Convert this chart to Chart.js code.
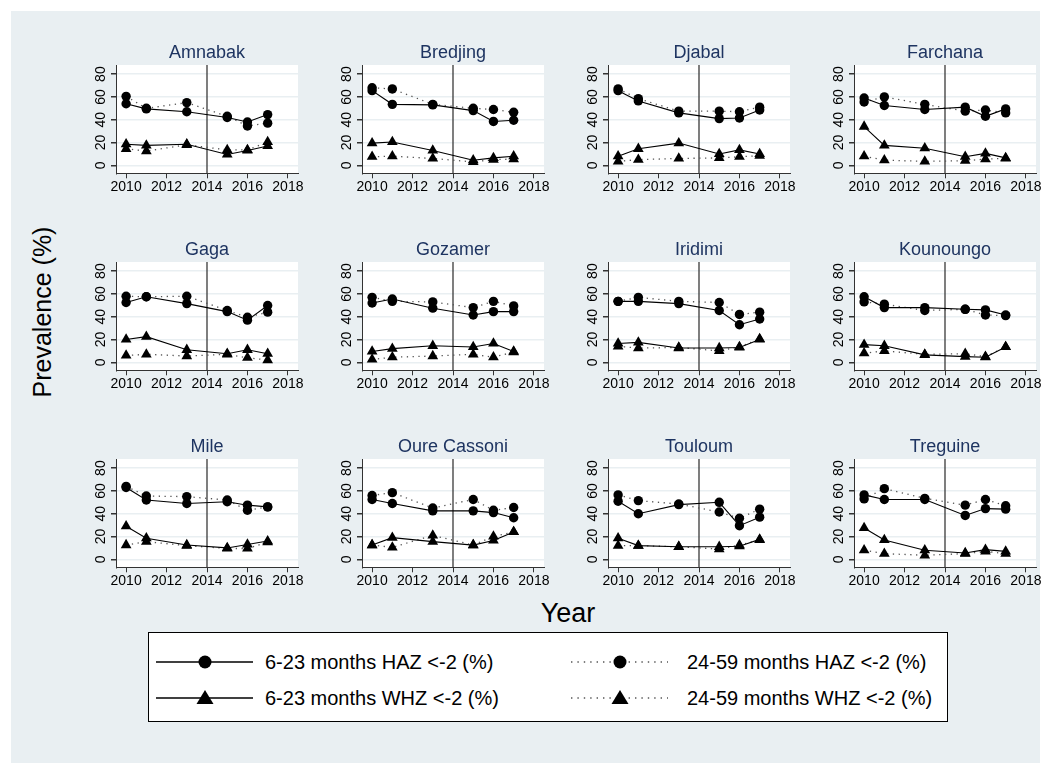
<!DOCTYPE html>
<html>
<head>
<meta charset="utf-8">
<script src="https://cdn.jsdelivr.net/npm/chart.js@4.4.1/dist/chart.umd.min.js"></script>
<style>
body { margin: 0; background: #fff; font-family: 'Liberation Sans', Arial, Helvetica, sans-serif; }
#fig { position: absolute; left: 11px; top: 11px; width: 1029px; height: 752px; background: #e9eff2; }
.panel { position: absolute; width: 246px; height: 175px; }
.axtitle { position: absolute; color: #000; white-space: nowrap; line-height: 30px; }
#ytitle { left: 42px; top: 312px; font-size: 25px; transform: translate(-50%, -50%) rotate(-90deg); }
#xtitle { left: 568px; top: 613px; font-size: 27px; transform: translate(-50%, -50%); }
#legend { position: absolute; left: 148px; top: 632px; width: 800px; height: 90px; box-sizing: border-box;
          border: 1px solid #000; background: #fff; }
#legend svg, #legend .lab { position: absolute; }
#legend .lab { font-size: 20px; line-height: 24px; white-space: nowrap; color: #000; }
</style>
</head>
<body>
<div id="fig"></div>
<div class="axtitle" id="ytitle">Prevalence (%)</div>
<div class="axtitle" id="xtitle">Year</div>
<div id="legend"></div>
<script>
const sites = ['Amnabak', 'Bredjing', 'Djabal', 'Farchana', 'Gaga', 'Gozamer',
               'Iridimi', 'Kounoungo', 'Mile', 'Oure Cassoni', 'Touloum', 'Treguine'];
const years = [2010, 2011, 2013, 2015, 2016, 2017];
const xTicks = [2010, 2012, 2014, 2016, 2018];
const yTicks = [0, 20, 40, 60, 80];
const interventionYear = 2014;

// 6-23 months HAZ <-2 (%)
const haz623 = [
    [54, 49.5, 47, 42, 38, 44.5],
    [65.5, 53.5, 53, 48, 38.5, 39.5],
    [65.5, 56.5, 46, 41, 41.5, 48.5],
    [59, 52.5, 49, 51, 43, 49.5],
    [52.5, 57.5, 51.5, 44.5, 37, 49.8],
    [52, 55.5, 47.5, 41.5, 44.5, 44.5],
    [53.5, 53.5, 51.5, 45.5, 33, 38],
    [57.5, 48, 48, 46.5, 46, 41.5],
    [63, 52, 49, 50.5, 47.5, 46],
    [52.5, 49, 42.5, 42.5, 41, 36.5],
    [51, 40, 48, 50, 29.5, 37],
    [56.5, 52.5, 52.5, 38.5, 44.5, 44]
];
// 24-59 months HAZ <-2 (%)
const haz2459 = [
    [60.5, 50, 55, 43, 34.5, 37],
    [68, 67, 53.5, 50, 49, 46.5],
    [67, 58.5, 47.5, 47.5, 47, 51],
    [55.5, 60, 53.5, 47.5, 48.5, 46],
    [58, 57.5, 58, 45.5, 39.5, 44],
    [57, 53.5, 53, 48, 53.5, 49.5],
    [53.5, 57, 53.5, 52.5, 42, 44],
    [53, 51, 45.5, 46.5, 41.5, 41],
    [64, 55.5, 55, 52, 43, 46],
    [56, 58.5, 45, 52.5, 43, 45.5],
    [56.5, 51.5, 48.5, 41.5, 36, 44],
    [53, 62, 53.5, 47.5, 52.5, 47]
];
// 6-23 months WHZ <-2 (%)
const whz623 = [
    [18.5, 17.5, 18.5, 9.5, 13, 17],
    [19.5, 20.5, 13, 4.5, 6.5, 8],
    [8, 14.5, 19.5, 10, 13.5, 10],
    [34, 17.5, 15, 7.5, 10.5, 6.5],
    [20, 22.5, 11, 7.5, 11, 7.5],
    [9.5, 12, 14.5, 13.5, 16.5, 9.5],
    [16.5, 17.5, 12.5, 12.5, 13, 20],
    [15.5, 14.5, 6.5, 5, 4.5, 13.5],
    [29, 18.5, 12.5, 10, 13, 16],
    [12.5, 19, 15.5, 12.5, 16.5, 24],
    [18.5, 12, 11, 11, 11.5, 17.5],
    [27.5, 17, 8, 5.5, 8.5, 7]
];
// 24-59 months WHZ <-2 (%)
const whz2459 = [
    [14.5, 12.5, 18, 13.5, 13.5, 20.5],
    [7.5, 8, 6, 3, 5, 5.5],
    [3.5, 5, 6, 6.5, 7.5, 8.5],
    [8, 4.5, 3.5, 4, 5.5, 6],
    [6, 7, 5.5, 7, 4, 2],
    [2.5, 4.5, 5.5, 7, 4.5, 9],
    [14, 12.5, 13, 10, 13.5, 20.5],
    [8, 10, 7, 7.5, 5, 13.5],
    [12.5, 15.5, 12, 9.5, 9.5, 15],
    [12.5, 10.5, 21, 12.5, 20, 24],
    [12, 12, 11, 9, 12.5, 17],
    [8, 5, 3.5, 5, 7, 5]
];
const seriesLabels = ['6-23 months HAZ <-2 (%)', '24-59 months HAZ <-2 (%)',
                      '6-23 months WHZ <-2 (%)', '24-59 months WHZ <-2 (%)'];

const font = "'Liberation Sans', Arial, Helvetica, sans-serif";
const bg = '#e9eff2';
const titleColor = '#1e3461';

const toPoints = arr => years.map((yr, j) => ({ x: yr, y: arr[j] }));

const series = (label, arr, shape, dotted) => ({
    label: label,
    data: toPoints(arr),
    borderColor: dotted ? '#555' : '#000',
    borderWidth: dotted ? 1.3 : 1.1,
    borderDash: dotted ? [1.3, 4.5] : [],
    pointStyle: shape,
    pointRadius: shape === 'circle' ? 4.7 : 6.2,
    pointBackgroundColor: '#000',
    pointBorderColor: '#000',
    pointBorderWidth: 0,
    tension: 0
});

// white plot region, 2014 reference line and rotated y labels
const panelDecor = {
    id: 'panelDecor',
    beforeDraw(chart) {
        const { ctx, chartArea: a } = chart;
        ctx.save();
        ctx.fillStyle = '#fff';
        ctx.fillRect(a.left, a.top, a.right - a.left, a.bottom - a.top);
        ctx.restore();
    },
    beforeDatasetsDraw(chart) {
        const { ctx, chartArea: a } = chart;
        const px = chart.scales.x.getPixelForValue(interventionYear);
        ctx.save();
        ctx.strokeStyle = '#3a3a3a';
        ctx.lineWidth = 1.3;
        ctx.beginPath();
        ctx.moveTo(px, a.top);
        ctx.lineTo(px, a.bottom);
        ctx.stroke();
        ctx.restore();
    },
    afterDraw(chart) {
        const { ctx } = chart;
        const ys = chart.scales.y;
        ctx.save();
        ctx.fillStyle = '#000';
        ctx.font = '14px ' + font;
        ctx.textAlign = 'center';
        ctx.textBaseline = 'middle';
        yTicks.forEach(v => {
            ctx.save();
            ctx.translate(ys.right - 14.5, ys.getPixelForValue(v));
            ctx.rotate(-Math.PI / 2);
            ctx.fillText(String(v), 0, 0);
            ctx.restore();
        });
        ctx.restore();
    }
};

sites.forEach((name, i) => {
    const row = Math.floor(i / 4), col = i % 4;
    const box = document.createElement('div');
    box.className = 'panel';
    box.style.left = Math.round(60 + 246.1 * col) + 'px';
    box.style.top = Math.round(30 + 197.2 * row) + 'px';
    const cv = document.createElement('canvas');
    cv.width = 246;
    cv.height = 175;
    box.appendChild(cv);
    document.body.appendChild(box);

    new Chart(cv.getContext('2d'), {
        type: 'line',
        data: {
            datasets: [
                series(seriesLabels[0], haz623[i], 'circle', false),
                series(seriesLabels[1], haz2459[i], 'circle', true),
                series(seriesLabels[2], whz623[i], 'triangle', false),
                series(seriesLabels[3], whz2459[i], 'triangle', true)
            ]
        },
        options: {
            responsive: false,
            animation: false,
            devicePixelRatio: 1,
            layout: { padding: { left: 0, right: 8, top: 0, bottom: 0 } },
            plugins: {
                legend: { display: false },
                tooltip: { enabled: false },
                title: {
                    display: true,
                    fullSize: false,
                    text: name,
                    color: titleColor,
                    font: { family: font, size: 18, weight: 'normal' },
                    padding: { top: 12, bottom: 1.4 }
                }
            },
            scales: {
                x: {
                    type: 'linear',
                    min: 2009.5,
                    max: 2018.5,
                    afterBuildTicks: s => { s.ticks = xTicks.map(v => ({ value: v })); },
                    afterFit: s => { s.height = 31.7; },
                    grid: { drawOnChartArea: false, tickLength: 5, tickColor: '#333' },
                    border: { color: '#333', width: 1 },
                    ticks: { color: '#000', font: { family: font, size: 14 }, padding: 0,
                             maxRotation: 0, autoSkip: false, callback: v => String(v) }
                },
                y: {
                    min: -7,
                    max: 88,
                    afterBuildTicks: s => { s.ticks = yTicks.map(v => ({ value: v })); },
                    afterFit: s => { s.width = 56; },
                    grid: { color: bg, lineWidth: 1.5, tickLength: 5, tickColor: '#333' },
                    border: { color: '#333', width: 1 },
                    ticks: { display: false }
                }
            }
        },
        plugins: [panelDecor]
    });
});

// legend box
const legend = document.getElementById('legend');
const legendSpots = [
    { left: 7, top: 29, text: 116 }, { left: 422, top: 29, text: 538 },
    { left: 7, top: 65, text: 116 }, { left: 422, top: 65, text: 538 }
];
const legendShapes = ['circle', 'circle', 'triangle', 'triangle'];
const legendDotted = [false, true, false, true];
seriesLabels.forEach((label, k) => {
    const spot = legendSpots[k];
    const dash = legendDotted[k] ? 'stroke-dasharray="1.4 5" stroke="#555"' : 'stroke="#000"';
    const mark = legendShapes[k] === 'circle'
        ? '<circle cx="49" cy="12" r="6.5" fill="#000"/>'
        : '<polygon points="49,4 57.5,18 40.5,18" fill="#000"/>';
    legend.insertAdjacentHTML('beforeend',
        `<svg width="100" height="24" style="left:${spot.left}px;top:${spot.top - 12}px">` +
        `<line x1="0" y1="12" x2="97" y2="12" stroke-width="1.3" ${dash}/>${mark}</svg>` +
        `<div class="lab" style="left:${spot.text}px;top:${spot.top - 12}px"></div>`);
    legend.lastElementChild.textContent = label;
});
</script>
</body>
</html>
